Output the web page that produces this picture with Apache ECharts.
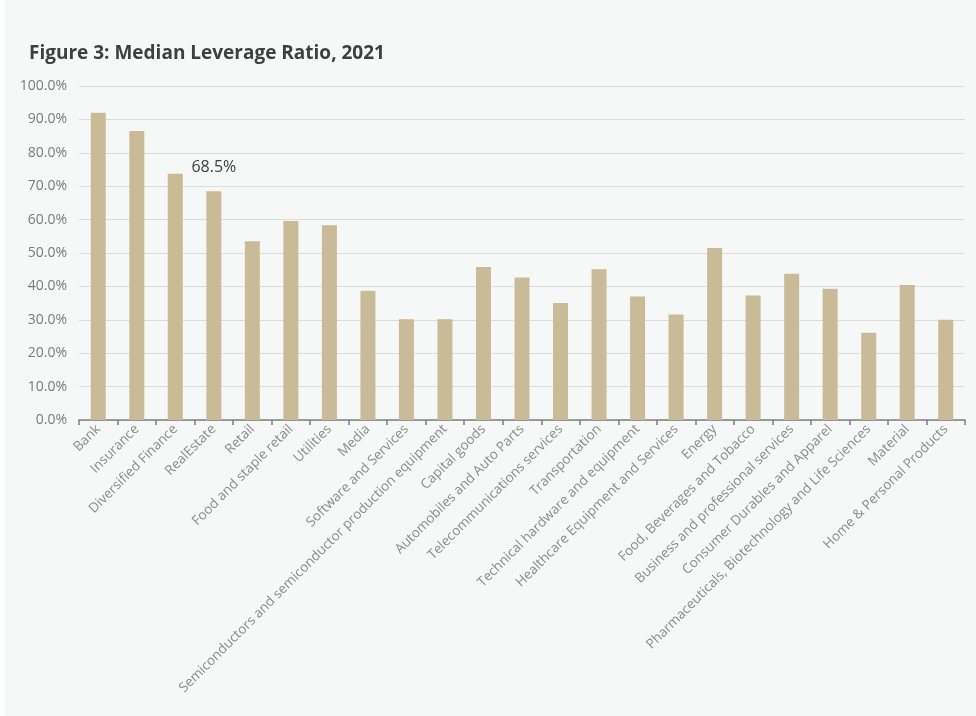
<!DOCTYPE html>
<html>
<head>
<meta charset="utf-8">
<script src="https://cdn.jsdelivr.net/npm/echarts@6/dist/echarts.min.js"></script>
<style>
  html, body { margin: 0; padding: 0; background: #ffffff; }
  #chart { position: absolute; left: 5px; top: 0; width: 971px; height: 716px; background: #f6f7f7; }
</style>
</head>
<body>
<div id="chart"></div>
<script>
// 行业分类
const categories = [
  'Bank', 'Insurance', 'Diversified Finance', 'RealEstate', 'Retail',
  'Food and staple retail', 'Utilities', 'Media', 'Software and Services',
  'Semiconductors and semiconductor production equipment', 'Capital goods',
  'Automobiles and Auto Parts', 'Telecommunications services', 'Transportation',
  'Technical hardware and equipment', 'Healthcare Equipment and Services', 'Energy',
  'Food, Beverages and Tobacco', 'Business and professional services',
  'Consumer Durables and Apparel', 'Pharmaceuticals, Biotechnology and Life Sciences',
  'Material', 'Home & Personal Products'
]
// 杠杆率中位数 (%)
const leverage = [
  92.0, 86.5, 73.7, 68.5, 53.5, 59.6, 58.3, 38.7, 30.2, 30.2, 45.8,
  42.7, 35.0, 45.1, 37.0, 31.6, 51.5, 37.3, 43.8, 39.3, 26.1, 40.4, 30.0
]
const labelledIndex = 3

const chart = echarts.init(document.getElementById('chart'))

const options = {
  animation: false,
  title: {
    text: 'Figure 3: Median Leverage Ratio, 2021',
    left: 19,
    top: 39,
    textStyle: {
      fontFamily: 'Open Sans',
      fontWeight: 'bold',
      fontSize: 19,
      color: '#3f3f3f'
    }
  },
  grid: {
    left: 74,
    right: 11,
    top: 86,
    bottom: 296
  },
  xAxis: {
    type: 'category',
    data: categories,
    axisLine: { lineStyle: { color: '#7f7f7f', width: 1.5 } },
    axisTick: { show: true, length: 5, lineStyle: { color: '#7f7f7f', width: 1.5 } },
    axisLabel: {
      rotate: 45,
      interval: 0,
      margin: 7,
      fontFamily: 'Open Sans',
      fontSize: 13.5,
      color: '#8c8c8c'
    }
  },
  yAxis: {
    type: 'value',
    min: 0,
    max: 100,
    interval: 10,
    axisLine: { show: false },
    axisTick: { show: false },
    axisLabel: {
      margin: 12,
      fontFamily: 'Open Sans',
      fontSize: 14,
      color: '#7a7a7a',
      formatter: v => v.toFixed(1) + '%'
    },
    splitLine: { lineStyle: { color: '#dcdcdc', width: 1 } }
  },
  series: [{
    type: 'bar',
    barWidth: 15,
    itemStyle: { color: '#c9bb98' },
    data: leverage.map((v, i) => i === labelledIndex ? {
      value: v,
      label: {
        show: true,
        position: 'top',
        distance: 16,
        formatter: '{c}%',
        fontFamily: 'Open Sans',
        fontSize: 16,
        color: '#404040'
      }
    } : v)
  }]
}
chart.setOption(options)
</script>
</body>
</html>
